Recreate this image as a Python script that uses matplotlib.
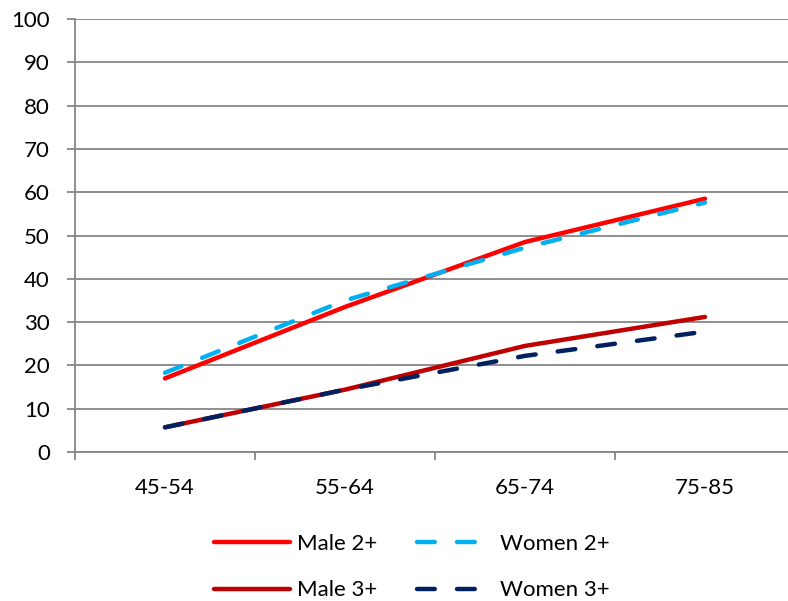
import numpy as np
import matplotlib.pyplot as plt

# age groups and share of people with 2+ / 3+ conditions (%)
age_groups = ['45-54', '55-64', '65-74', '75-85']
male_2 = [17.0, 33.5, 48.5, 58.5]
women_2 = [18.3, 35.0, 47.2, 57.6]
male_3 = [5.7, 14.4, 24.5, 31.2]
women_3 = [5.7, 14.4, 22.2, 27.8]

plt.rcParams['font.family'] = ['Lato', 'DejaVu Sans']

fig = plt.figure(figsize=(7.88, 6.01), dpi=100)
ax = fig.add_axes([75 / 788, 1 - 452 / 601, 720 / 788, 433 / 601])

x = np.arange(len(age_groups))
grey = '#868686'
lw = 3.2

ax.plot(x, male_2, color='#FF0000', lw=lw, solid_capstyle='round', label='Male 2+', zorder=3)
ax.plot(x, women_2, color='#00B0F0', lw=lw, dashes=[4.0, 5.0], dash_capstyle='round',
        label='Women 2+', zorder=4)
ax.plot(x, male_3, color='#C00000', lw=lw, solid_capstyle='round', label='Male 3+', zorder=3)
ax.plot(x, women_3, color='#002060', lw=lw, dashes=[4.0, 5.0], dash_capstyle='round',
        label='Women 3+', zorder=4)

ax.set_xlim(-0.5, len(age_groups) - 0.5)
ax.set_ylim(0, 100)
ax.set_yticks(np.arange(0, 101, 10))
ax.set_xticks(x)
ax.set_xticklabels(age_groups)
ax.set_xticks(np.arange(-0.5, len(age_groups)), minor=True)

ax.grid(axis='y', color=grey, lw=1.3)
ax.set_axisbelow(True)
for s in ['top', 'right']:
    ax.spines[s].set_visible(False)
for s in ['left', 'bottom']:
    ax.spines[s].set_color(grey)
    ax.spines[s].set_linewidth(1.3)

ax.tick_params(axis='y', length=6, width=1.3, color=grey, pad=12, labelsize=16)
ax.tick_params(axis='x', which='major', length=0, pad=19, labelsize=16)
ax.tick_params(axis='x', which='minor', length=6, width=1.3, color=grey)

# legend in two rows: order Male 2+, Women 2+ / Male 3+, Women 3+
h, l = ax.get_legend_handles_labels()
order = [0, 2, 1, 3]
fig.legend([h[i] for i in order], [l[i] for i in order], ncol=2, frameon=False,
           loc='center', bbox_to_anchor=(412 / 788, 1 - 567 / 601), fontsize=16,
           handlelength=3.4, handletextpad=0.32, columnspacing=1.8, labelspacing=1.2)

fig.savefig('out.png', dpi=100)
